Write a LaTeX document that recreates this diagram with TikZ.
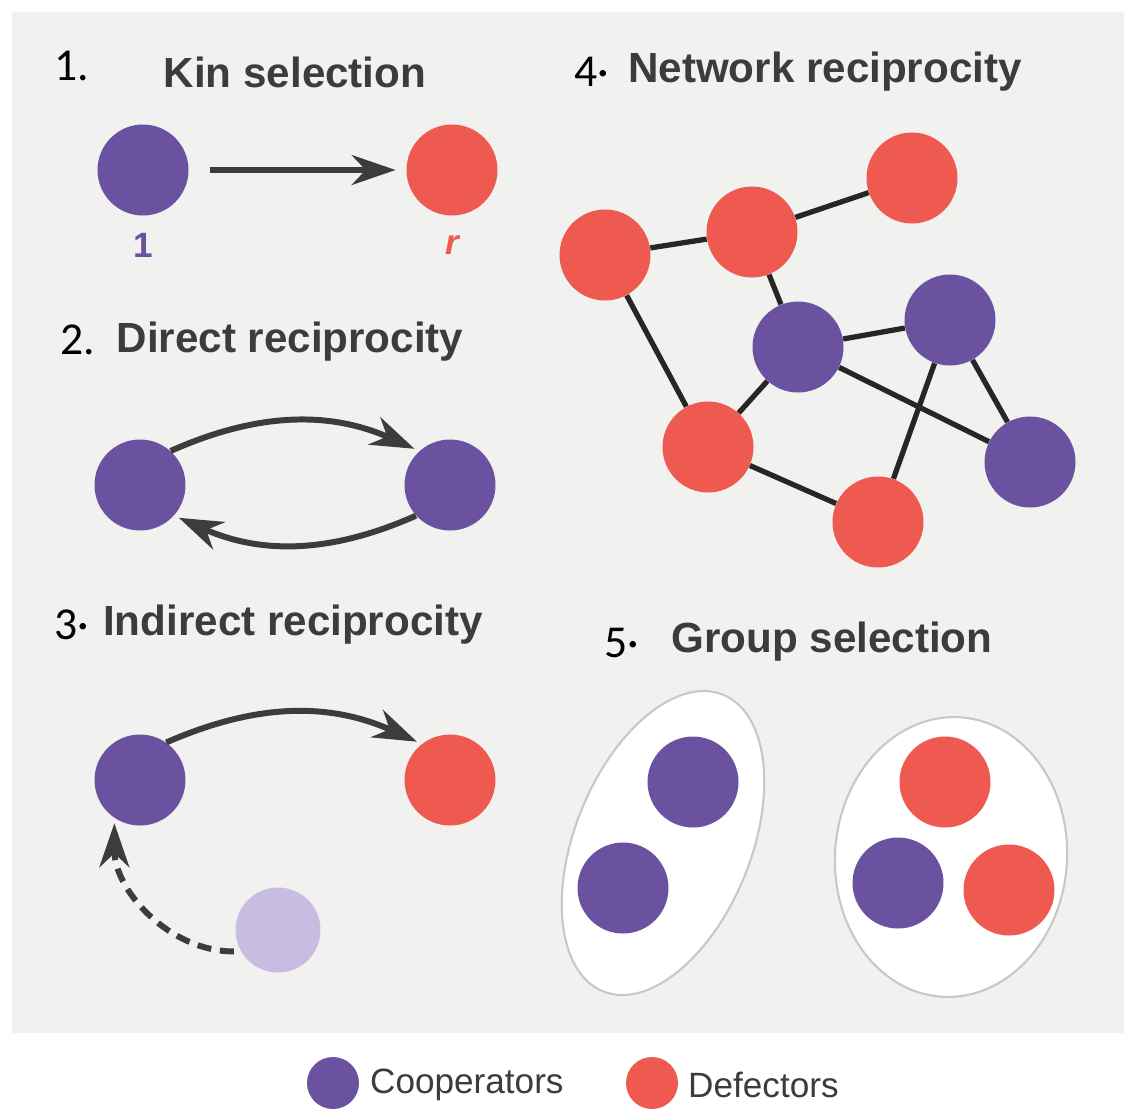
\documentclass[tikz,border=0pt]{standalone}
\usepackage{fontspec}
\setmainfont{Liberation Sans}
\newfontfamily\numberfont{Carlito}
\usetikzlibrary{arrows.meta}

\definecolor{coopcol}{RGB}{106,82,160}
\definecolor{defectcol}{RGB}{238,90,80}
\definecolor{ghostcol}{RGB}{200,188,226}
\definecolor{panelcol}{RGB}{241,241,239}
\definecolor{inkcol}{RGB}{60,60,58}
\definecolor{rimcol}{RGB}{200,200,198}

\begin{document}
\begin{tikzpicture}[x=0.02cm,y=0.02cm,
    dot/.style={circle,inner sep=0,minimum size=\dotsize cm},
    coop/.style={dot,fill=coopcol},
    defect/.style={dot,fill=defectcol},
    gift/.style={draw=inkcol,line width=3.4pt,shorten >=3pt,
        -{Stealth[length=25pt,width=17pt,inset=8pt]}},
    link/.style={draw=black!85,line width=3pt},
    title/.style={text=inkcol,font=\titlefontsize\bfseries},
    number/.style={font=\numberfont\numberfontsize}]
    \pgfmathsetmacro{\dotsize}{1.82}
    \pgfmathsetmacro{\legendsize}{1.04}
    \providecommand{\titlefontsize}{\fontsize{24}{28}\selectfont}
    \providecommand{\numberfontsize}{\fontsize{26}{30}\selectfont}
    \providecommand{\legendfontsize}{\fontsize{20}{24}\selectfont}
    % page and grey panel
    \fill[white] (0,0) rectangle (1124,-1106);
    \fill[panelcol] (12,-12) rectangle (1124,-1033);

    % 1. kin selection
    \node[number] (num1) at (72,-66) {1.};
    \node[title] (kintitle) at (295,-72) {Kin selection};
    \node[coop] (kinA) at (143,-170) {};
    \node[defect] (kinB) at (452,-170) {};
    \node[text=coopcol,font=\legendfontsize\bfseries] (kinone) at (143,-245) {1};
    \node[text=defectcol,font=\legendfontsize\bfseries\itshape] (kinr) at (452,-245) {r};
    \draw[gift,shorten <=12pt,shorten >=6pt] (kinA) -- (kinB);

    % 2. direct reciprocity
    \node[number] (num2) at (78,-340) {2.};
    \node[title] (dirtitle) at (290,-342) {Direct reciprocity};
    \node[coop] (dirA) at (140,-485) {};
    \node[coop] (dirB) at (450,-485) {};
    \draw[gift] (dirA.48) to[bend left=24] (dirB.132);
    \draw[gift] (dirB.222) to[bend left=24] (dirA.-42);

    % 3. indirect reciprocity
    \node[number] (num3) at (72,-625) {3·};
    \node[title] (indtitle) at (293,-625) {Indirect reciprocity};
    \node[coop] (indA) at (140,-780) {};
    \node[defect] (indB) at (450,-780) {};
    \node[dot,fill=ghostcol,minimum size=1.7cm] (indC) at (278,-930) {};
    \draw[gift] (indA.55) to[bend left=24] (indB.128);
    \draw[gift,dash pattern=on 8pt off 5pt,shorten <=4pt,shorten >=3pt]
        (indC.210) to[out=180,in=-90] (indA.236);

    % 4. network reciprocity
    \node[number] (num4) at (592,-72) {4·};
    \node[title] (nettitle) at (825,-72) {Network reciprocity};
    \node[defect] (netA) at (605,-255) {};
    \node[defect] (netB) at (752,-232) {};
    \node[defect] (netC) at (912,-178) {};
    \node[coop] (netD) at (798,-347) {};
    \node[coop] (netE) at (950,-320) {};
    \node[defect] (netF) at (708,-447) {};
    \node[coop] (netG) at (1030,-462) {};
    \node[defect] (netH) at (878,-522) {};
    \draw[link] (netA) -- (netB) (netB) -- (netC) (netB) -- (netD)
        (netA) -- (netF) (netF) -- (netD) (netD) -- (netE)
        (netD) -- (netG) (netE) -- (netG) (netE) -- (netH) (netF) -- (netH);

    % 5. group selection
    \node[number] (num5) at (622,-643) {5·};
    \node[title] (grptitle) at (832,-642) {Group selection};
    \filldraw[fill=white,draw=rimcol,line width=1.2pt,rotate around={-22:(663,-843)}]
        (663,-843) ellipse [x radius=88,y radius=160];
    \filldraw[fill=white,draw=rimcol,line width=1.2pt,rotate around={-4:(951,-857)}]
        (951,-857) ellipse [x radius=116,y radius=140];
    \node[coop] (grpA) at (693,-782) {};
    \node[coop] (grpB) at (623,-888) {};
    \node[defect] (grpC) at (945,-782) {};
    \node[coop] (grpD) at (898,-883) {};
    \node[defect] (grpE) at (1009,-890) {};

    % legend
    \node[coop,minimum size=\legendsize cm] (keycoop) at (333,-1083) {};
    \node[anchor=west,text=inkcol,font=\legendfontsize] (keycooptext) at (364,-1085) {Cooperators};
    \node[defect,minimum size=\legendsize cm] (keydefect) at (652,-1083) {};
    \node[anchor=west,text=inkcol,font=\legendfontsize] (keydefecttext) at (682,-1085) {Defectors};
\end{tikzpicture}
\end{document}
